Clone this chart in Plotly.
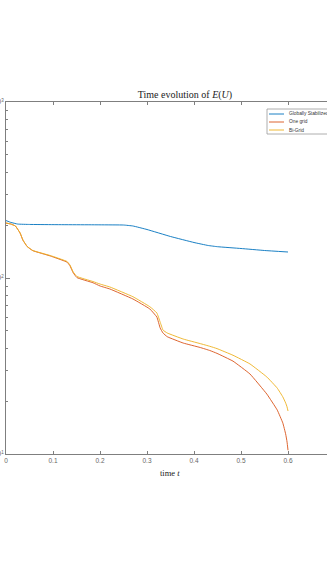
import plotly.graph_objects as go

# ---- data ----
t_global = [0.0, 0.01, 0.025, 0.05, 0.1, 0.2, 0.25, 0.27, 0.3, 0.35, 0.4, 0.43, 0.45, 0.5, 0.55, 0.6]
E_global = [212.0, 207.0, 202.5, 201.5, 201.0, 200.5, 200.0, 197.5, 188.6, 172.1, 159.1, 153.0, 150.6, 147.1, 143.3, 140.5]

t_grid = [0.0, 0.01, 0.02, 0.03, 0.036, 0.045, 0.057, 0.094, 0.13, 0.136, 0.143, 0.151, 0.185, 0.2,
          0.221, 0.27, 0.306, 0.321, 0.328, 0.334, 0.343, 0.377, 0.413, 0.434, 0.449, 0.483, 0.519,
          0.555, 0.577, 0.589, 0.595, 0.598, 0.6]
E_one = [205.0, 202.7, 197.5, 180.0, 164.0, 151.0, 143.0, 133.5, 123.0, 117.5, 107.0, 100.5, 94.0, 90.1,
         86.6, 76.0, 66.7, 60.0, 52.0, 48.7, 46.4, 42.7, 40.3, 38.7, 37.3, 33.7, 28.5,
         21.9, 17.8, 15.0, 13.0, 11.7, 10.5]
E_bi = [205.4, 202.7, 197.5, 180.2, 164.4, 151.0, 143.3, 134.2, 124.1, 118.6, 108.2, 102.0, 95.5, 92.4,
        88.9, 78.3, 68.7, 63.3, 56.2, 50.6, 48.7, 45.0, 42.4, 40.9, 39.7, 36.4, 32.5,
        27.4, 23.7, 21.1, 19.5, 18.5, 17.55]

series_names = ["Globally Stabilized", "One grid", "Bi-Grid"]
series_colors = ["#0072BD", "#D95319", "#EDB120"]

x_ticks = [0, 0.1, 0.2, 0.3, 0.4, 0.5, 0.6]
y_ticks = [10, 100, 1000]
y_ticktext = ["10<sup>1</sup>", "10<sup>2</sup>", "10<sup>3</sup>"]

W, H = 327, 572
ML, MR, MT, MB = 6, 0, 102, 118

fig = go.Figure()
for tx, ey, name, col in zip([t_global, t_grid, t_grid], [E_global, E_one, E_bi], series_names, series_colors):
    fig.add_trace(go.Scatter(x=tx, y=ey, mode="lines", name=name,
                             line=dict(color=col, width=0.9, shape="spline", smoothing=0.3),
                             showlegend=False))

axis_col = "#7f7f7f"
fig.update_layout(
    width=W, height=H, template="none",
    margin=dict(l=ML, r=MR, t=MT, b=MB, autoexpand=False),
    paper_bgcolor="white", plot_bgcolor="white",
    showlegend=False,
    xaxis=dict(range=[0, (W - ML - MR) / 470.0], tickvals=x_ticks, ticks="inside", ticklen=3,
               tickcolor=axis_col, showline=True, linecolor=axis_col, linewidth=1, mirror="ticks",
               showgrid=False, zeroline=False, automargin=False,
               tickfont=dict(family="Liberation Sans", size=6.5, color="#666666")),
    yaxis=dict(type="log", range=[1, 3], tickvals=y_ticks, ticktext=y_ticktext, ticks="inside",
               ticklen=4, tickcolor=axis_col, showline=True, linecolor=axis_col, linewidth=1,
               mirror=False, showgrid=False, zeroline=False, automargin=False,
               minor=dict(ticks="inside", ticklen=2, tickcolor=axis_col, dtick="D1", showgrid=False),
               tickfont=dict(family="Liberation Sans", size=6.5, color="#666666")),
    title=dict(text="Time evolution of <i>E</i>(<i>U</i>)", xref="container", yref="container",
               x=185 / W, y=1 - 94 / H, xanchor="center", yanchor="middle",
               font=dict(family="Liberation Serif", size=10, color="#222222")),
)

# x-axis label
fig.add_annotation(text="time <i>t</i>", xref="paper", yref="paper", x=(170 - ML) / (W - ML - MR), y=0,
                   yshift=-19, xanchor="center", yanchor="middle", showarrow=False,
                   font=dict(family="Liberation Serif", size=8.5, color="#222222"))

# legend box (drawn in paper pixels)
pw, ph = W - ML - MR, H - MT - MB
def px(x):
    return (x - ML) / pw
def py(y):
    return 1 - (y - MT) / ph

fig.add_shape(type="rect", xref="paper", yref="paper", x0=px(267), x1=px(345), y0=py(134), y1=py(109),
              line=dict(color="#9a9a9a", width=0.8), fillcolor="white", layer="above")
for i, (name, col) in enumerate(zip(series_names, series_colors)):
    yy = 114 + 8 * i
    fig.add_shape(type="line", xref="paper", yref="paper", x0=px(269), x1=px(284), y0=py(yy), y1=py(yy),
                  line=dict(color=col, width=0.9), layer="above")
    fig.add_annotation(text=name, xref="paper", yref="paper", x=px(287), y=py(yy), xanchor="left",
                       yanchor="middle", showarrow=False,
                       font=dict(family="Liberation Sans", size=4.8, color="#333333"))

fig.write_html("out.html", config={"displayModeBar": False},
               post_script="document.body.style.margin='0px';document.body.style.overflow='hidden';")
